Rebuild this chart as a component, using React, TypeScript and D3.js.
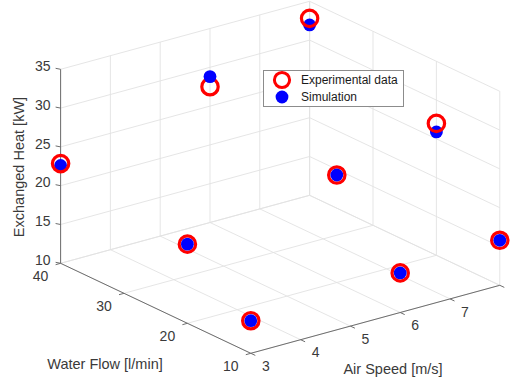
import * as d3 from 'd3';

// design points: air speed [m/s], water flow [l/min]
const airSpeed = [3, 6, 8, 3, 6, 8, 3, 6, 8];
const waterFlow = [40, 40, 40, 20, 20, 20, 10, 10, 10];
const experimental = [22.85, 27.5, 32.8, 20.2, 23.85, 27.0, 14.2, 15.1, 15.8];
const simulation = [22.6, 28.8, 31.95, 20.2, 23.85, 25.9, 14.2, 15.1, 15.8];

const airTicks = [3, 4, 5, 6, 7, 8];
const airLabels = [3, 4, 5, 6, 7]; // 8 falls outside the picture
const waterTicks = [10, 20, 30, 40];
const heatTicks = [10, 15, 20, 25, 30, 35];

const W = 510;
const H = 379;
const font = 'Liberation Sans, Arial, Helvetica, sans-serif';
const textColor = '#3a3a3a';
const axisColor = '#6e6e6e';
const gridColor = '#e2e2e2';

// each axis maps to 0..1 along its edge of the box
const ax = d3.scaleLinear().domain([3, 8]).range([0, 1]);
const wx = d3.scaleLinear().domain([10, 40]).range([0, 1]);
const zx = d3.scaleLinear().domain([10, 35]).range([0, 1]);

// screen position of the front corner and the span vectors of each axis
const origin = [250.8, 353.3];
const airVec = [249, -68];
const waterVec = [-190.2, -90];
const zVec = [0, -194];

function project(a: number, w: number, z: number): [number, number] {
    const ta = ax(a), tw = wx(w), tz = zx(z);
    return [
        origin[0] + ta * airVec[0] + tw * waterVec[0] + tz * zVec[0],
        origin[1] + ta * airVec[1] + tw * waterVec[1] + tz * zVec[1],
    ];
}

function seg(p: [number, number], q: [number, number], key: string, color: string, width: number) {
    return <line key={key} x1={p[0]} y1={p[1]} x2={q[0]} y2={q[1]} stroke={color} strokeWidth={width} />;
}

export default function App() {
    const [a0, a1] = ax.domain();
    const [w0, w1] = wx.domain();
    const [z0, z1] = zx.domain();

    const grid: JSX.Element[] = [];
    // floor
    airTicks.forEach(a => grid.push(seg(project(a, w0, z0), project(a, w1, z0), 'fa' + a, gridColor, 0.9)));
    waterTicks.forEach(w => grid.push(seg(project(a0, w, z0), project(a1, w, z0), 'fw' + w, gridColor, 0.9)));
    // back wall at max water flow
    airTicks.forEach(a => grid.push(seg(project(a, w1, z0), project(a, w1, z1), 'la' + a, gridColor, 0.9)));
    heatTicks.forEach(z => grid.push(seg(project(a0, w1, z), project(a1, w1, z), 'lz' + z, gridColor, 0.9)));
    // back wall at max air speed
    waterTicks.forEach(w => grid.push(seg(project(a1, w, z0), project(a1, w, z1), 'rw' + w, gridColor, 0.9)));
    heatTicks.forEach(z => grid.push(seg(project(a1, w0, z), project(a1, w1, z), 'rz' + z, gridColor, 0.9)));

    // markers, lower ones first so the nearer (higher) marker sits on top
    const markers = [
        ...experimental.map((z, i) => ({ kind: 'exp', a: airSpeed[i], w: waterFlow[i], z })),
        ...simulation.map((z, i) => ({ kind: 'sim', a: airSpeed[i], w: waterFlow[i], z })),
    ].sort((m, n) => m.z - n.z);

    return (
        <svg width={W} height={H} style={{ position: 'absolute', left: 0, top: 0, background: '#fff' }}
            fontFamily={font}>
            <rect width={W} height={H} fill="#fff" />
            {grid}

            {/* axis lines */}
            {seg(project(a0, w1, z0), project(a0, w1, z1), 'zaxis', axisColor, 1)}
            {seg(project(a0, w1, z0), project(a0, w0, z0), 'waxis', axisColor, 1)}
            {seg(project(a0, w0, z0), project(a1, w0, z0), 'aaxis', axisColor, 1)}

            {/* z ticks */}
            {heatTicks.map(z => {
                const [x, y] = project(a0, w1, z);
                return (
                    <g key={'zt' + z}>
                        <line x1={x} y1={y} x2={x - 5} y2={y - 1} stroke={axisColor} />
                        <text x={x - 10} y={y - 2} textAnchor="end" dominantBaseline="middle"
                            fontSize={14} fill={textColor}>{z}</text>
                    </g>
                );
            })}

            {/* water flow ticks */}
            {waterTicks.map(w => {
                const [x, y] = project(a0, w, z0);
                return (
                    <g key={'wt' + w}>
                        <line x1={x} y1={y} x2={x - 5} y2={y + 1.4} stroke={axisColor} />
                        <text x={x - 20} y={y + 14} textAnchor="middle" dominantBaseline="middle"
                            fontSize={14} fill={textColor}>{w}</text>
                    </g>
                );
            })}

            {/* air speed ticks */}
            {airTicks.map(a => {
                const [x, y] = project(a, w0, z0);
                return <line key={'at' + a} x1={x} y1={y} x2={x + 4.5} y2={y + 2.1} stroke={axisColor} />;
            })}
            {airLabels.map(a => {
                const [x, y] = project(a, w0, z0);
                return (
                    <text key={'al' + a} x={x + 15} y={y + 14} textAnchor="middle" dominantBaseline="middle"
                        fontSize={14} fill={textColor}>{a}</text>
                );
            })}

            {/* axis titles */}
            <text x={105} y={365} textAnchor="middle" dominantBaseline="middle" fontSize={14.5}
                fill={textColor}>Water Flow [l/min]</text>
            <text x={393} y={370} textAnchor="middle" dominantBaseline="middle" fontSize={14.5}
                fill={textColor}>Air Speed [m/s]</text>
            <text transform="translate(20,167) rotate(-90)" textAnchor="middle" dominantBaseline="middle"
                fontSize={14.5} fill={textColor}>Exchanged Heat [kW]</text>

            {/* data */}
            {markers.map((m, i) => {
                const [x, y] = project(m.a, m.w, m.z);
                return m.kind === 'exp'
                    ? <circle key={'m' + i} cx={x} cy={y} r={8.2} fill="none" stroke="#ff0000" strokeWidth={3.2} />
                    : <circle key={'m' + i} cx={x} cy={y} r={6.4} fill="#0000ff" />;
            })}

            {/* legend */}
            <g>
                <rect x={263.5} y={70.5} width={140} height={36} fill="#fff" stroke="#8c8c8c" strokeWidth={1} />
                <circle cx={282} cy={80} r={7.6} fill="none" stroke="#ff0000" strokeWidth={3} />
                <circle cx={282} cy={97} r={6.4} fill="#0000ff" />
                <text x={301} y={80.5} dominantBaseline="middle" fontSize={12} fill="#1a1a1a">Experimental data</text>
                <text x={301} y={97.5} dominantBaseline="middle" fontSize={12} fill="#1a1a1a">Simulation</text>
            </g>
        </svg>
    );
}
